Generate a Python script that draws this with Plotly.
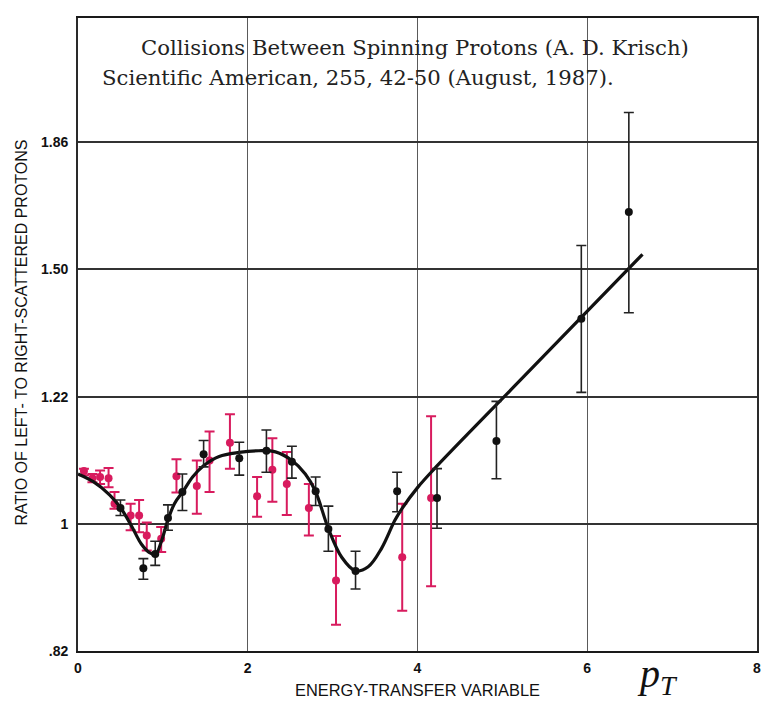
import plotly.graph_objects as go

# ---- data ----
red_x = [0.07, 0.17, 0.26, 0.36, 0.43, 0.62, 0.72, 0.81, 0.98, 1.16, 1.40, 1.55, 1.79, 2.11, 2.29, 2.46, 2.72, 3.04, 3.82, 4.16]
red_y = [1.086, 1.074, 1.076, 1.074, 1.032, 1.013, 1.013, 0.982, 0.977, 1.077, 1.061, 1.104, 1.135, 1.044, 1.088, 1.064, 1.025, 0.915, 0.949, 1.041]
red_hi = [1.090, 1.081, 1.087, 1.091, 1.051, 1.032, 1.038, 1.002, 0.995, 1.106, 1.104, 1.155, 1.187, 1.076, 1.143, 1.119, 1.064, 0.981, 1.032, 1.183]
red_lo = [1.079, 1.067, 1.064, 1.059, 1.024, 0.990, 0.987, 0.959, 0.957, 1.050, 1.016, 1.051, 1.090, 1.011, 1.035, 1.014, 0.982, 0.854, 0.873, 0.907]

black_x = [0.50, 0.77, 0.91, 1.06, 1.23, 1.48, 1.90, 2.22, 2.52, 2.80, 2.95, 3.27, 3.76, 4.23, 4.93, 5.93, 6.49]
black_y = [1.025, 0.933, 0.954, 1.009, 1.051, 1.115, 1.108, 1.121, 1.102, 1.052, 0.992, 0.929, 1.052, 1.041, 1.138, 1.378, 1.628]
black_hi = [1.038, 0.947, 0.973, 1.030, 1.081, 1.139, 1.136, 1.158, 1.129, 1.076, 1.028, 0.958, 1.084, 1.090, 1.211, 1.545, 1.902]
black_lo = [1.013, 0.917, 0.937, 0.990, 1.021, 1.093, 1.079, 1.084, 1.074, 1.029, 0.958, 0.903, 1.019, 0.993, 1.073, 1.228, 1.391]

fit_x = [0.0, 0.18, 0.375, 0.504, 0.629, 0.746, 0.843, 0.913, 0.98, 1.057, 1.136, 1.233, 1.35, 1.479, 1.663, 1.897, 2.131, 2.327, 2.521, 2.678, 2.795, 2.951, 3.107, 3.27, 3.419, 3.575, 3.732, 3.817, 4.005, 4.2, 5.254, 6.651]
fit_y = [1.081, 1.068, 1.046, 1.025, 0.997, 0.969, 0.956, 0.953, 0.972, 1.005, 1.032, 1.051, 1.076, 1.095, 1.111, 1.118, 1.121, 1.119, 1.104, 1.081, 1.053, 0.992, 0.949, 0.929, 0.935, 0.962, 1.005, 1.024, 1.059, 1.090, 1.259, 1.524]

x_ticks = [0, 2, 4, 6, 8]
x_ticktext = ["0", "2", "4", "6", "8"]
y_ticks = [1.22 ** -1, 1.0, 1.22, 1.22 ** 2, 1.22 ** 3]
y_ticktext = [".82", "1", "1.22", "1.50", "1.86"]

RED = "#d81b5e"
BLACK = "#111111"

fig = go.Figure()

fig.add_trace(go.Scatter(
    x=red_x, y=red_y, mode="markers",
    marker=dict(color=RED, size=8),
    error_y=dict(type="data", symmetric=False,
                 array=[h - v for h, v in zip(red_hi, red_y)],
                 arrayminus=[v - l for v, l in zip(red_y, red_lo)],
                 color=RED, thickness=2, width=5),
    showlegend=False, hoverinfo="skip"))

fig.add_trace(go.Scatter(
    x=fit_x, y=fit_y, mode="lines",
    line=dict(color=BLACK, width=3.2, shape="spline", smoothing=1.0),
    showlegend=False, hoverinfo="skip"))

fig.add_trace(go.Scatter(
    x=black_x, y=black_y, mode="markers",
    marker=dict(color=BLACK, size=8),
    error_y=dict(type="data", symmetric=False,
                 array=[h - v for h, v in zip(black_hi, black_y)],
                 arrayminus=[v - l for v, l in zip(black_y, black_lo)],
                 color="#222222", thickness=1.6, width=5),
    showlegend=False, hoverinfo="skip"))

L, R, T, B = 78, 5, 18, 52.5
W, H = 766, 704
pw, ph = W - L - R, H - T - B

def px(xp):
    return (xp - L) / pw

def py(yp):
    return (H - B - yp) / ph

SANS = "Liberation Sans, Arial, sans-serif"
TICKFONT = dict(size=14, family=SANS, color="#111")

fig.update_layout(
    width=W, height=H,
    margin=dict(l=L, r=R, t=T, b=B, pad=0),
    paper_bgcolor="white", plot_bgcolor="white",
    font=dict(family=SANS, color="#111"),
    xaxis=dict(range=[0, 8], tickvals=x_ticks,
               ticktext=["<b>%s</b>" % t for t in x_ticktext],
               showgrid=True, gridcolor="#5a5a5a", gridwidth=1.2,
               zeroline=False, showline=True, linecolor="#1a1a1a", linewidth=2,
               mirror=True, ticks="", ticklabelstandoff=3,
               tickfont=TICKFONT),
    yaxis=dict(type="log", range=[-0.08636, 0.3434],
               tickvals=y_ticks,
               ticktext=["<b>%s</b>" % t for t in y_ticktext],
               showgrid=True, gridcolor="#333333", gridwidth=1.8,
               zeroline=False, showline=True, linecolor="#2a2a2a", linewidth=1.8,
               mirror=True, ticks="", ticklabelstandoff=5,
               tickfont=TICKFONT),
)

annots = [
    dict(text="Collisions Between Spinning Protons (A. D. Krisch)",
         x=px(139), y=py(48), xanchor="left", yanchor="middle",
         font=dict(family="DejaVu Serif, serif", size=21.2, color="#222")),
    dict(text="Scientific American, 255, 42-50 (August, 1987).",
         x=px(100), y=py(78), xanchor="left", yanchor="middle",
         font=dict(family="DejaVu Serif, serif", size=21.2, color="#222")),
    dict(text="RATIO OF LEFT- TO RIGHT-SCATTERED PROTONS",
         x=px(21.5), y=py(333), xanchor="center", yanchor="middle", textangle=-90,
         font=dict(family=SANS, size=16, color="#111")),
    dict(text="ENERGY-TRANSFER VARIABLE",
         x=px(419), y=py(691), xanchor="center", yanchor="middle",
         font=dict(family=SANS, size=16.4, color="#111")),
    dict(text="<i>p</i><sub><i>T</i></sub>",
         x=px(661), y=py(677), xanchor="center", yanchor="middle",
         font=dict(family="Liberation Serif, serif", size=40, color="#111")),
]
for a in annots:
    a.update(xref="paper", yref="paper", showarrow=False)
fig.update_layout(annotations=annots)

fig.write_html("out.html")
